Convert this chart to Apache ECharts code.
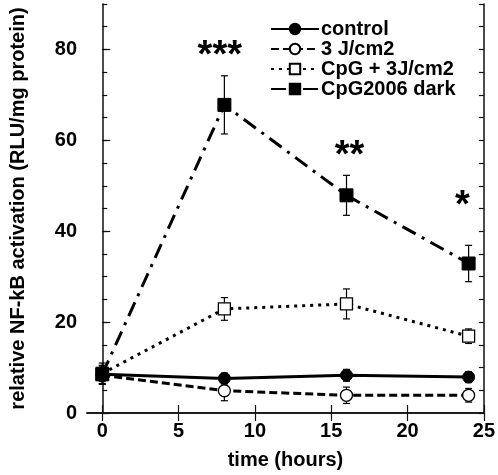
<!DOCTYPE html>
<html>
<head>
<meta charset="utf-8">
<script src="https://cdn.jsdelivr.net/npm/echarts@6/dist/echarts.min.js"></script>
<style>html,body{margin:0;padding:0;background:#fff}#c{width:498px;height:475px}</style>
</head>
<body>
<div id="c"></div>
<script>
// ---- data ----
const xs = [0, 8, 16, 24];
const control = [8.5, 7.6, 8.3, 7.9];
const controlErr = [1.5, 1.2, 1.3, 1.2];
const j3 = [8.3, 4.9, 3.9, 3.9];
const j3Err = [2.0, 2.2, 1.8, 1.5];
const cpg3j = [8.7, 22.9, 24.0, 16.9];
const cpg3jErr = [2.3, 2.5, 3.3, 1.6];
const cpgDark = [8.5, 67.8, 47.9, 32.9];
const cpgDarkErr = [2.0, 6.4, 4.4, 4.0];
const seriesNames = ['control', '3 J/cm2', 'CpG + 3J/cm2', 'CpG2006 dark'];
const starX = [7.7, 16.2, 23.6];
const starY = [80.4, 58.5, 47.4];
const starText = ['***', '**', '*'];
const xTicks = [0, 5, 10, 15, 20, 25];
const yLabels = [0, 20, 40, 60, 80];
const yMinor = [0, 5, 10, 15, 20, 25, 30, 35, 40, 45, 50, 55, 60, 65, 70, 75, 80, 85, 90];

const FONT = 'Liberation Sans, Arial, Helvetica, sans-serif';
const pairs = (ys) => xs.map((x, i) => [x, ys[i]]);
const errs = (ys, es) => xs.map((x, i) => [x, ys[i] - es[i], ys[i] + es[i]]);

function errSeries(ys, es) {
  return {
    type: 'custom', xAxisIndex: 0, yAxisIndex: 0, z: 1, silent: true,
    data: errs(ys, es),
    renderItem: function (params, api) {
      const x = api.value(0);
      const lo = api.coord([x, api.value(1)]);
      const hi = api.coord([x, api.value(2)]);
      const w = 3.5;
      return {
        type: 'group', children: [
          { type: 'line', shape: { x1: lo[0], y1: lo[1], x2: hi[0], y2: hi[1] }, style: { stroke: '#000', lineWidth: 1.2 } },
          { type: 'line', shape: { x1: lo[0] - w, y1: lo[1], x2: lo[0] + w, y2: lo[1] }, style: { stroke: '#000', lineWidth: 1.2 } },
          { type: 'line', shape: { x1: hi[0] - w, y1: hi[1], x2: hi[0] + w, y2: hi[1] }, style: { stroke: '#000', lineWidth: 1.2 } }
        ]
      };
    }
  };
}

const axisLineStyle = { color: '#111', width: 1.5 };
const labelStyle = { fontFamily: FONT, fontWeight: 'bold', fontSize: 20, color: '#000' };

const chart = echarts.init(document.getElementById('c'), null, { renderer: 'canvas' });
chart.setOption({
  animation: false,
  backgroundColor: '#fff',
  grid: { left: 70, top: 4, width: 419, height: 419, containLabel: false },
  legend: {
    orient: 'vertical', left: 270, top: 19, padding: 0,
    itemWidth: 48, itemHeight: 13, itemGap: 0,
    data: seriesNames,
    textStyle: { fontFamily: FONT, fontWeight: 'bold', fontSize: 20, color: '#000', lineHeight: 19.5, padding: [0, 0, 0, -3] }
  },
  xAxis: [
    {
      type: 'value', min: -1, max: 25, position: 'bottom',
      axisLine: { show: true, lineStyle: axisLineStyle },
      axisTick: { show: true, inside: true, length: 8, customValues: xTicks, lineStyle: { color: '#111', width: 1.2 } },
      axisLabel: { show: true, customValues: xTicks, margin: 8, ...labelStyle },
      splitLine: { show: false },
      name: 'time (hours)', nameLocation: 'middle', nameGap: 37,
      nameTextStyle: { ...labelStyle }
    },
    {
      type: 'value', min: -1, max: 25, position: 'top',
      axisLine: { show: true, lineStyle: axisLineStyle },
      axisTick: { show: true, inside: true, length: 8, customValues: xTicks, lineStyle: { color: '#111', width: 1.2 } },
      axisLabel: { show: false },
      splitLine: { show: false }
    }
  ],
  yAxis: [
    {
      type: 'value', min: 0, max: 90, position: 'left',
      axisLine: { show: true, lineStyle: axisLineStyle },
      axisTick: { show: true, inside: true, length: 8, customValues: yLabels, lineStyle: { color: '#111', width: 1.2 } },
      axisLabel: { show: true, customValues: yLabels, margin: 10, ...labelStyle },
      splitLine: { show: false },
      name: 'relative NF-kB activation (RLU/mg protein)', nameLocation: 'middle', nameGap: 59,
      nameTextStyle: { ...labelStyle }
    },
    {
      type: 'value', min: 0, max: 90, position: 'left',
      axisLine: { show: false },
      axisTick: { show: true, inside: true, length: 5, customValues: yMinor, lineStyle: { color: '#111', width: 1.2 } },
      axisLabel: { show: false },
      splitLine: { show: false }
    },
    {
      type: 'value', min: 0, max: 90, position: 'right',
      axisLine: { show: true, lineStyle: axisLineStyle },
      axisTick: { show: true, inside: true, length: 5, customValues: yMinor, lineStyle: { color: '#111', width: 1.2 } },
      axisLabel: { show: false },
      splitLine: { show: false }
    }
  ],
  series: [
    errSeries(control, controlErr),
    errSeries(j3, j3Err),
    errSeries(cpg3j, cpg3jErr),
    errSeries(cpgDark, cpgDarkErr),
    {
      name: seriesNames[0], type: 'line', data: pairs(control), z: 5,
      symbol: 'circle', symbolSize: 12,
      lineStyle: { color: '#000', width: 3, type: 'solid' },
      itemStyle: { color: '#000', borderColor: '#000', borderWidth: 1 }
    },
    {
      name: seriesNames[1], type: 'line', data: pairs(j3), z: 5,
      symbol: 'circle', symbolSize: 12,
      lineStyle: { color: '#000', width: 3, type: [8, 4] },
      itemStyle: { color: '#fff', borderColor: '#000', borderWidth: 1.3 }
    },
    {
      name: seriesNames[2], type: 'line', data: pairs(cpg3j), z: 5,
      symbol: 'rect', symbolSize: 12,
      lineStyle: { color: '#000', width: 3, type: [3, 5] },
      itemStyle: { color: '#fff', borderColor: '#000', borderWidth: 1.3 }
    },
    {
      name: seriesNames[3], type: 'line', data: pairs(cpgDark), z: 5,
      symbol: 'rect', symbolSize: 13,
      lineStyle: { color: '#000', width: 3, type: [15, 7, 3, 7] },
      itemStyle: { color: '#000', borderColor: '#000', borderWidth: 1 }
    },
    {
      type: 'custom', silent: true, z: 6,
      data: starX.map((x, i) => [x, starY[i], i]),
      renderItem: function (params, api) {
        const p = api.coord([api.value(0), api.value(1)]);
        return {
          type: 'text',
          style: {
            text: starText[api.value(2)], x: p[0], y: p[1] + 9,
            align: 'center', verticalAlign: 'middle',
            font: 'bold 38px ' + FONT, fill: '#000'
          }
        };
      }
    }
  ]
});
</script>
</body>
</html>
